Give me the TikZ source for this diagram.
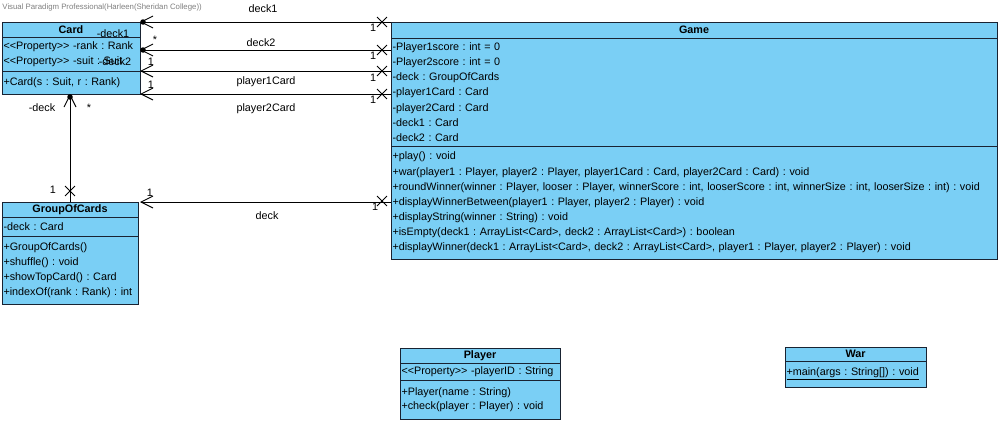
\documentclass[tikz,border=0pt]{standalone}
\usepackage{fontspec}
\setmainfont{Liberation Sans}
\usetikzlibrary{arrows.meta}
\usetikzlibrary{shapes.misc}
\frenchspacing
\definecolor{umlfill}{RGB}{122,207,245}
\definecolor{umlline}{RGB}{25,35,50}
\newcommand{\umlfont}[1]{\fontsize{10.8}{#1}\selectfont}
\tikzset{
every picture/.style={line width=0.9pt, x=1pt, y=-1pt},
%%%%%%%%%%  class boxes
classtitle/.style={draw=umlline, fill=umlfill, anchor=north west, inner sep=0pt,
                   outer sep=0pt, font=\umlfont{13}\bfseries},
classpart/.style={draw=umlline, fill=umlfill, anchor=north west, inner xsep=1.5pt,
                  inner ysep=0pt, outer sep=0pt, align=left, text width=#1},
%%%%%%%%%%  association ends
dotnode/.style={fill=black, circle, minimum size=5.5pt, inner sep=0pt, outer sep=0pt},
navarrow/.style={-{Straight Barb[length=12pt, width=12pt]}},
xmark/.style={cross out, draw=black, line width=0.9pt, minimum size=9pt, inner sep=0pt},
lbl/.style={inner sep=0pt, font=\umlfont{13}},
}

\begin{document}
\begin{tikzpicture}
\fill[white] (0,0) rectangle (1000,423);
\useasboundingbox (0,0) rectangle (1000,423);
\node[lbl, anchor=west, font=\fontsize{7.8}{8}\selectfont, text=gray] (vpmark) at (2,7)
	{Visual Paradigm Professional(Harleen(Sheridan College))};
%%%%%%%%%%%%%%%%%%%%%%%%%%%%%%%%%%%%%%%%%%%%%%
%% Card
\node[classtitle, minimum width=138pt, minimum height=15pt] (card) at (2,22) {Card};
\node[classpart=135pt, minimum height=34pt, font=\umlfont{15}] (card-attr) at (card.south west)
	{<{}<Property>{}> -rank : Rank\\ <{}<Property>{}> -suit : Suit};
\node[classpart=135pt, minimum height=23pt, font=\umlfont{15}] (card-ops) at (card-attr.south west)
	{+Card(s : Suit, r : Rank)};
%%%%%%%%%%%%%%%%%%%%%%%%%%%%%%%%%%%%%%%%%%%%%%
%% Game
\node[classtitle, minimum width=606pt, minimum height=16pt] (game) at (391,22) {Game};
\node[classpart=603pt, minimum height=108pt, font=\umlfont{15.2}] (game-attr) at (game.south west)
	{-Player1score : int = 0\\
	-Player2score : int = 0\\
	-deck : GroupOfCards\\
	-player1Card : Card\\
	-player2Card : Card\\
	-deck1 : Card\\
	-deck2 : Card};
\node[classpart=603pt, minimum height=113pt, font=\umlfont{15.1}] (game-ops) at (game-attr.south west)
	{+play() : void\\
	+war(player1 : Player, player2 : Player, player1Card : Card, player2Card : Card) : void\\
	+roundWinner(winner : Player, looser : Player, winnerScore : int, looserScore : int, winnerSize : int, looserSize : int) : void\\
	+displayWinnerBetween(player1 : Player, player2 : Player) : void\\
	+displayString(winner : String) : void\\
	+isEmpty(deck1 : ArrayList<Card>, deck2 : ArrayList<Card>) : boolean\\
	+displayWinner(deck1 : ArrayList<Card>, deck2 : ArrayList<Card>, player1 : Player, player2 : Player) : void};
%%%%%%%%%%%%%%%%%%%%%%%%%%%%%%%%%%%%%%%%%%%%%%
%% GroupOfCards
\node[classtitle, minimum width=136pt, minimum height=15pt] (goc) at (2,202) {GroupOfCards};
\node[classpart=133pt, minimum height=19pt, font=\umlfont{15}] (goc-attr) at (goc.south west)
	{-deck : Card};
\node[classpart=133pt, minimum height=68pt, font=\umlfont{15}] (goc-ops) at (goc-attr.south west)
	{+GroupOfCards()\\
	+shuffle() : void\\
	+showTopCard() : Card\\
	+indexOf(rank : Rank) : int};
%%%%%%%%%%%%%%%%%%%%%%%%%%%%%%%%%%%%%%%%%%%%%%
%% Player
\node[classtitle, minimum width=160pt, minimum height=15pt] (player) at (400,348) {Player};
\node[classpart=157pt, minimum height=17pt, font=\umlfont{14}] (player-attr) at (player.south west)
	{<{}<Property>{}> -playerID : String};
\node[classpart=157pt, minimum height=39pt, font=\umlfont{14}] (player-ops) at (player-attr.south west)
	{+Player(name : String)\\
	+check(player : Player) : void};
%%%%%%%%%%%%%%%%%%%%%%%%%%%%%%%%%%%%%%%%%%%%%%
%% War
\node[classtitle, minimum width=141pt, minimum height=14pt] (war) at (785,347) {War};
\node[classpart=138pt, minimum height=26pt, font=\umlfont{14}] (war-ops) at (war.south west)
	{\underline{+main(args : String[]) : void}};
%%%%%%%%%%%%%%%%%%%%%%%%%%%%%%%%%%%%%%%%%%%%%%
%% association ends
\coordinate (card-e1) at (card.north east);
\coordinate (card-e2) at (140,50);
\coordinate (card-e3) at (card-ops.north east);
\coordinate (card-e4) at (card-ops.south east);
\coordinate (game-e1) at (game.north west);
\coordinate (game-e2) at (391,50);
\coordinate (game-e3) at (391,71);
\coordinate (game-e4) at (391,94);
\coordinate (game-e5) at (391,202);
\coordinate (card-s) at (70,94);
\coordinate (goc-n) at (70,202);
\coordinate (goc-e) at (140,202);
%% Game -- Card
\draw[navarrow] (game-e1) -- (card-e1);
\draw[navarrow] (game-e2) -- (card-e2);
\draw[navarrow] (game-e3) -- (card-e3);
\draw[navarrow] (game-e4) -- (card-e4);
\node[dotnode] (dot1) at (143,22) {};
\node[dotnode] (dot2) at (143,50) {};
\node[xmark] (x1) at (382,22) {};
\node[xmark] (x2) at (382,50) {};
\node[xmark] (x3) at (382,71) {};
\node[xmark] (x4) at (382,94) {};
\node[lbl] (m1) at (373,28) {1};
\node[lbl] (m2) at (373,56) {1};
\node[lbl] (m3) at (373,78) {1};
\node[lbl] (m4) at (373,100) {1};
\node[lbl] (r1) at (113,34) {-deck1};
\node[lbl] (s2) at (155,40) {*};
\node[lbl] (r2) at (115,62) {-deck2};
\node[lbl] (m5) at (151,62) {1};
\node[lbl] (m6) at (151,85) {1};
\node[lbl] (l-deck1) at (263,9) {deck1};
\node[lbl] (l-deck2) at (261,43) {deck2};
\node[lbl] (l-p1) at (266,82) {player1Card};
\node[lbl] (l-p2) at (266,109) {player2Card};
%% GroupOfCards -- Card
\draw[navarrow] (goc-n) -- (card-s);
\node[dotnode] (dot3) at (70,97) {};
\node[xmark] (x5) at (70,191) {};
\node[lbl] (m7) at (53,190) {1};
\node[lbl] (r3) at (42,108) {-deck};
\node[lbl] (s3) at (89,108) {*};
%% Game -- GroupOfCards
\draw[navarrow] (game-e5) -- (goc-e);
\node[xmark] (x6) at (382,201) {};
\node[lbl] (m8) at (375,207) {1};
\node[lbl] (m9) at (150,193) {1};
\node[lbl] (l-deck) at (267,216) {deck};
\end{tikzpicture}
\end{document}
